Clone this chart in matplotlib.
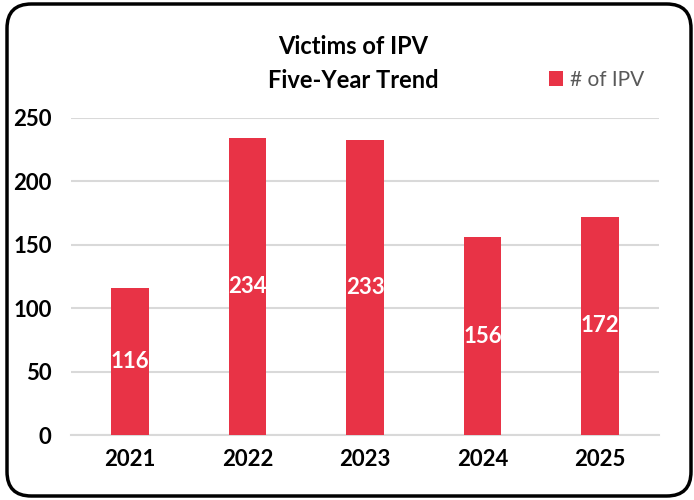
import matplotlib.pyplot as plt
from matplotlib.patches import FancyBboxPatch

years = ["2021", "2022", "2023", "2024", "2025"]
victims = [116, 234, 233, 156, 172]
y_ticks = [0, 50, 100, 150, 200, 250]

BAR_COLOR = "#e83346"
GRID_COLOR = "#d9d9d9"
FONT = ["Lato", "DejaVu Sans"]

plt.rcParams["font.family"] = FONT

fig = plt.figure(figsize=(6.94, 5.0), dpi=100)
ax = fig.add_axes([71 / 694, 1 - 435 / 500, (659 - 71) / 694, (435 - 118) / 500])

x = range(len(years))
bars = ax.bar(x, victims, width=0.32, color=BAR_COLOR, label="# of IPV", zorder=3)
for xi, v in zip(x, victims):
    ax.text(xi, v / 2, str(v), ha="center", va="center", color="white",
            fontsize=16, fontweight="bold", zorder=4)

ax.set_xlim(-0.5, len(years) - 0.5)
ax.set_ylim(0, 250)
ax.set_yticks(y_ticks)
ax.set_xticks(list(x))
ax.set_xticklabels(years)
ax.yaxis.grid(True, color=GRID_COLOR, lw=1.5, zorder=0)
ax.set_axisbelow(True)
for s in ["top", "right", "left"]:
    ax.spines[s].set_visible(False)
ax.spines["bottom"].set_color(GRID_COLOR)
ax.spines["bottom"].set_linewidth(1.5)
ax.tick_params(axis="both", length=0, labelsize=16)
ax.tick_params(axis="y", pad=14)
ax.tick_params(axis="x", pad=10)
for lab in ax.get_xticklabels() + ax.get_yticklabels():
    lab.set_fontweight("bold")

fig.text(353 / 694, 1 - 47 / 500, "Victims of IPV", ha="center", va="center",
         fontsize=17, fontweight="bold")
fig.text(353 / 694, 1 - 81 / 500, "Five-Year Trend", ha="center", va="center",
         fontsize=17, fontweight="bold")

leg = fig.legend(handles=[bars], labels=["# of IPV"], loc="center left",
                 bbox_to_anchor=(530 / 694, 1 - 80 / 500), frameon=False,
                 fontsize=15, handlelength=0.7, handleheight=0.7, handletextpad=0.3)
for t in leg.get_texts():
    t.set_color("#595959")

frame = FancyBboxPatch((7 / 694, 4 / 500), 684 / 694, 492 / 500,
                       boxstyle="round,pad=0,rounding_size=0.035",
                       transform=fig.transFigure, fill=False, ec="black", lw=2.5,
                       mutation_aspect=694 / 500)
fig.patches.append(frame)

fig.savefig("out.png", dpi=100)
